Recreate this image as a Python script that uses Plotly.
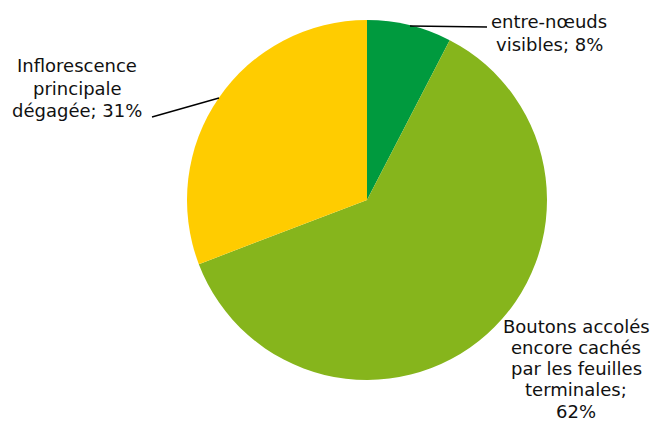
import plotly.graph_objects as go

categories = ["entre-nœuds<br>visibles",
              "Boutons accolés<br>encore cachés<br>par les feuilles<br>terminales;",
              "Inflorescence<br>principale<br>dégagée"]
values = [7.6, 61.6, 30.8]
pct_labels = ["8%", "62%", "31%"]
colors = ["#009A3E", "#86B51C", "#FFCC00"]

# page body has an 8px margin: the figure is offset by it
OFF = 8
W, H = 660 - OFF, 423 - OFF


def px(x, y):
    return (x - OFF) / W, 1 - (y - OFF) / H


fig = go.Figure()
dx0, dy0 = px(187, 380)
dx1, dy1 = px(547, 20)
fig.add_trace(go.Pie(
    labels=categories, values=values, sort=False, direction="clockwise",
    rotation=0, marker=dict(colors=colors, line=dict(width=0)),
    textinfo="none", hoverinfo="label+percent", showlegend=False,
    domain=dict(x=[dx0, dx1], y=[dy0, dy1]),
))

font = dict(family="DejaVu Sans, Verdana, sans-serif", size=18, color="#111111")
label_text = [
    categories[0] + "; " + pct_labels[0],
    categories[1] + "<br>" + pct_labels[1],
    categories[2] + "; " + pct_labels[2],
]
# (x centre, first line centre, line spacing) in page pixels
label_layout = [(549, 21.5, 22.5), (576, 326, 21.3), (77, 66, 22.2)]
for t, (x, y0, dy) in zip(label_text, label_layout):
    for i, line in enumerate(t.split("<br>")):
        ax_, ay_ = px(x, y0 + i * dy)
        fig.add_annotation(x=ax_, y=ay_, xref="paper", yref="paper", text=line,
                           showarrow=False, align="center", xanchor="center",
                           yanchor="middle", font=font)

leaders = [((410, 26), (487, 27)), ((152, 117), (219, 98))]
for (x0, y0), (x1, y1) in leaders:
    a0, b0 = px(x0, y0)
    a1, b1 = px(x1, y1)
    fig.add_shape(type="line", xref="paper", yref="paper", x0=a0, y0=b0,
                  x1=a1, y1=b1, line=dict(color="#000000", width=1.3))

fig.update_layout(width=W, height=H, margin=dict(l=0, r=0, t=0, b=0),
                  paper_bgcolor="white", plot_bgcolor="white")
fig.write_html("out.html")
